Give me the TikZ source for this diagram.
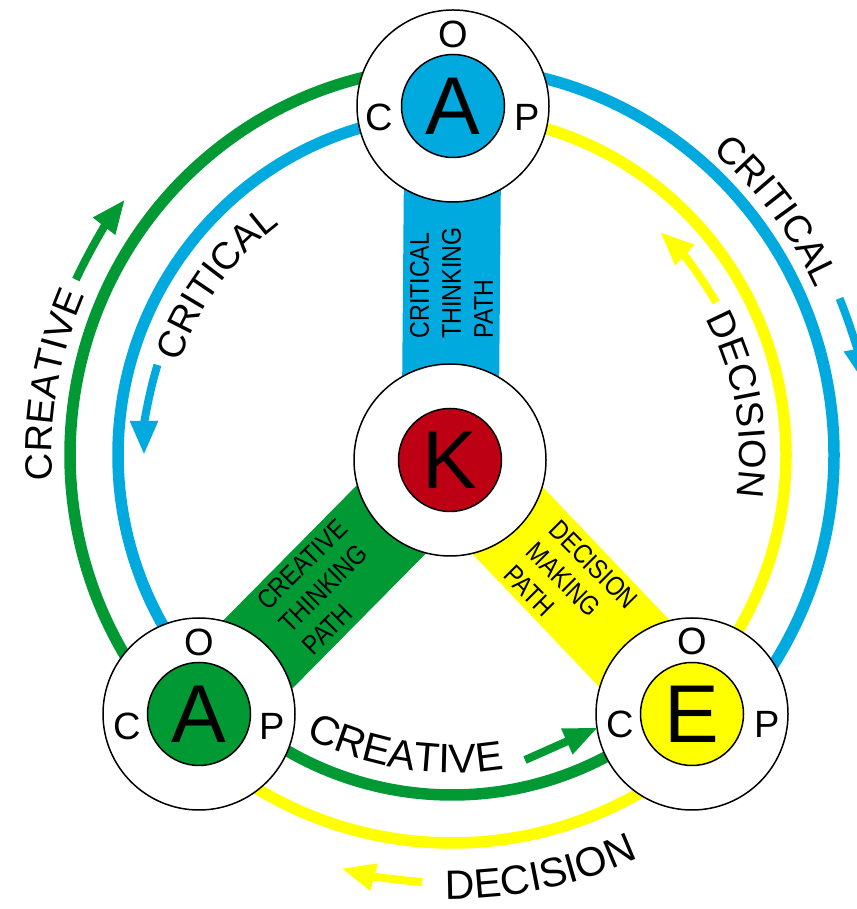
\documentclass[tikz,border=0pt]{standalone}
\usepackage{fontspec}
\setmainfont{Liberation Sans}
\newfontfamily\pathfamily[FakeStretch=0.86]{Liberation Sans}
\usetikzlibrary{arrows.meta, decorations.text, calc}

\definecolor{critblue}{RGB}{0, 170, 222}
\definecolor{creagreen}{RGB}{0, 153, 51}
\definecolor{decyellow}{RGB}{255, 255, 0}
\definecolor{knowred}{RGB}{190, 0, 20}

\newcommand{\bigletter}{\fontsize{82}{82}\selectfont}
\newcommand{\rimletter}{\fontsize{38}{38}\selectfont}
\newcommand{\pathletter}{\pathfamily\fontsize{27}{32}\selectfont}
\newcommand{\arcletter}{\fontsize{38}{38}\selectfont}
\newcommand{\lowletter}{\fontsize{41}{41}\selectfont}

\begin{document}
\begin{tikzpicture}[
    x=1pt, y=1pt,
    ring/.style={line width=11.5pt},
    band/.style={line width=97pt},
    flow/.style={line width=8pt, -{Triangle[length=34pt, width=26pt]}},
    hub/.style={circle, draw=black, line width=1.5pt, fill=white,
                minimum size=192pt, inner sep=0pt},
    core/.style={circle, draw=black, line width=1.5pt, minimum size=103pt,
                 inner sep=0pt, font=\bigletter},
    rim/.style={inner sep=0pt, font=\rimletter},
    pathtext/.style={align=left, inner sep=0pt, font=\pathletter},
    arctext/.style={decorate, decoration={text along path, text align=center,
                    text={|\arcletter|#1}}},
    lowtext/.style={decorate, decoration={text along path, text align=center,
                    text={|\lowletter|#1}}}
  ]
  \useasboundingbox (0,0) rectangle (856,909);

  % where things sit
  \coordinate (ctr) at (452,454);
  \coordinate (k) at (450,449);
  \coordinate (t) at (453,803);
  \coordinate (l) at (199,195);
  \coordinate (r) at (692,195);

  % rings between the outer hubs
  \draw[ring, creagreen] (ctr) ++(90:382 and 388) arc[start angle=90, end angle=226, x radius=382, y radius=388];
  \draw[ring, critblue] (ctr) ++(90:334 and 340) arc[start angle=90, end angle=226, x radius=334, y radius=340];
  \draw[ring, critblue] (ctr) ++(90:382 and 388) arc[start angle=90, end angle=-47, x radius=382, y radius=388];
  \draw[ring, decyellow] (ctr) ++(90:334 and 340) arc[start angle=90, end angle=-47, x radius=334, y radius=340];
  \draw[ring, decyellow] (ctr) ++(226:382 and 388) arc[start angle=226, end angle=313, x radius=382, y radius=388];
  \draw[ring, creagreen] (ctr) ++(226:334 and 340) arc[start angle=226, end angle=313, x radius=334, y radius=340];

  % paths from K
  \draw[band, critblue] (k) -- (t);
  \draw[band, creagreen] (k) -- (l);
  \draw[band, decyellow] (k) -- (r);

  % hubs
  \node[hub] (khub) at (k) {};
  \node[core, fill=knowred] (kcore) at (k) {K};

  \node[hub] (thub) at (t) {};
  \node[core, fill=critblue] (tcore) at (t) {A};
  \node[rim] (tO) at ([yshift=72pt]t) {O};
  \node[rim] (tC) at ([shift={(-74pt,-11pt)}]t) {C};
  \node[rim] (tP) at ([shift={(74pt,-11pt)}]t) {P};

  \node[hub] (lhub) at (l) {};
  \node[core, fill=creagreen] (lcore) at (l) {A};
  \node[rim] (lO) at ([yshift=72pt]l) {O};
  \node[rim] (lC) at ([shift={(-72pt,-12pt)}]l) {C};
  \node[rim] (lP) at ([shift={(73pt,-12pt)}]l) {P};

  \node[hub] (rhub) at (r) {};
  \node[core, fill=decyellow] (rcore) at (r) {E};
  \node[rim] (rO) at ([yshift=73pt]r) {O};
  \node[rim] (rC) at ([shift={(-72pt,-10pt)}]r) {C};
  \node[rim] (rP) at ([shift={(75pt,-10pt)}]r) {P};

  % path names
  \node[pathtext, rotate=90] (critpath) at ($(k)!0.5!(t)$) {CRITICAL\\THINKING\\PATH};
  \node[pathtext, rotate=45] (creapath) at ($(k)!0.5!(l)$) {CREATIVE\\THINKING\\PATH};
  \node[pathtext, rotate=-45] (decpath) at ($(k)!0.5!(r)$) {DECISION\\MAKING\\PATH};

  % ring names
  \path[arctext=CREATIVE] (ctr) ++(200:400) arc[start angle=200, end angle=140, radius=400];
  \path[arctext=CRITICAL] (ctr) ++(180:288) arc[start angle=180, end angle=108, radius=288];
  \path[arctext=CRITICAL] (ctr) ++(67:400) arc[start angle=67, end angle=7, radius=400];
  \path[arctext=DECISION] (ctr) ++(45:288) arc[start angle=45, end angle=-25, radius=288];
  \path[lowtext=CREATIVE] (ctr) ++(221:318) arc[start angle=221, end angle=301, radius=318];
  \path[lowtext=DECISION] (ctr) ++(252:444) arc[start angle=252, end angle=312, radius=444];

  % flow arrows
  \draw[flow, creagreen] (ctr) ++(155:415) arc[start angle=155, end angle=142, radius=415];
  \draw[flow, critblue] (ctr) ++(163:308) arc[start angle=163, end angle=180, radius=308];
  \draw[flow, critblue] (ctr) ++(22:418) arc[start angle=22, end angle=10, radius=418];
  \draw[flow, decyellow] (ctr) ++(30:305) arc[start angle=30, end angle=47, radius=305];
  \draw[flow, decyellow] (ctr) ++(266:428) arc[start angle=266, end angle=255, radius=428];
  \coordinate (creTail) at (525,149);
  \draw[flow, creagreen, shorten >=9pt] (creTail) -- (rC.west);
\end{tikzpicture}
\end{document}
